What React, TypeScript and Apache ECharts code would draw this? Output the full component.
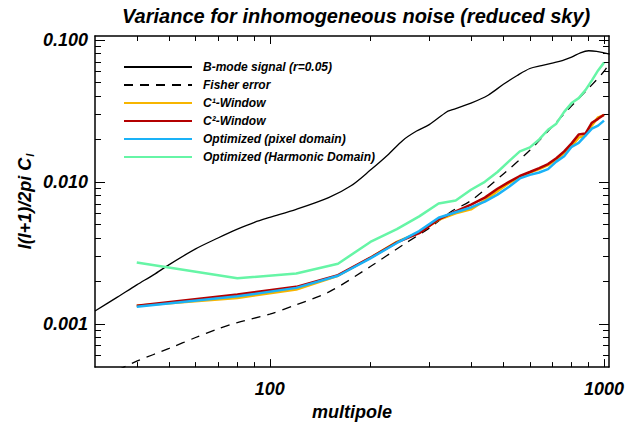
import React, { useEffect, useRef } from "react";
import * as echarts from "echarts";

// ---- data ----
const signalL = [30, 35, 40, 45, 50, 60, 70, 80, 90, 100, 120, 150, 175, 200, 225, 250, 275, 300, 338, 350, 400, 450, 500, 550, 600, 650, 700, 750, 800, 850, 900, 950, 1000, 1040];
const signalV = [0.00123, 0.00154, 0.00188, 0.00222, 0.00261, 0.00337, 0.00402, 0.00464, 0.00519, 0.00562, 0.0064, 0.00774, 0.00938, 0.0121, 0.0154, 0.0196, 0.0228, 0.0253, 0.0311, 0.0321, 0.0359, 0.0408, 0.0487, 0.0562, 0.0629, 0.0659, 0.0687, 0.0715, 0.0756, 0.0812, 0.0839, 0.0832, 0.0812, 0.0793];

const fisherL = [35, 40, 50, 60, 70, 80, 100, 120, 150, 200, 250, 300, 350, 400, 500, 600, 700, 800, 900, 1000, 1040];
const fisherV = [0.00047, 0.000545, 0.00067, 0.0008, 0.00092, 0.00102, 0.00117, 0.00136, 0.00167, 0.00253, 0.00359, 0.00472, 0.0062, 0.00738, 0.01136, 0.0167, 0.0245, 0.0343, 0.0457, 0.06, 0.069];

const binL = [40, 80, 120, 160, 200, 240, 280, 320, 360, 400, 440, 480, 520, 560, 600, 640, 680, 720, 760, 800, 840, 880, 920, 960, 1000];
const c1Window = [0.00134, 0.00152, 0.00174, 0.00218, 0.00292, 0.00378, 0.0044, 0.0054, 0.006, 0.0064, 0.0074, 0.0086, 0.0098, 0.0108, 0.0116, 0.0123, 0.0131, 0.0143, 0.016, 0.0178, 0.0205, 0.0212, 0.025, 0.0285, 0.0295];
const c2Window = [0.00134, 0.00161, 0.00182, 0.0022, 0.00292, 0.00375, 0.00435, 0.00545, 0.0062, 0.00692, 0.00774, 0.00894, 0.01, 0.011, 0.01173, 0.0125, 0.01334, 0.01468, 0.0164, 0.01866, 0.02154, 0.0219, 0.0261, 0.0278, 0.0297];
const optPixel = [0.00132, 0.00156, 0.00179, 0.00218, 0.00289, 0.00371, 0.0045, 0.00558, 0.0061, 0.0066, 0.00726, 0.00813, 0.00923, 0.01057, 0.0112, 0.01164, 0.0123, 0.01388, 0.01517, 0.01765, 0.0188, 0.0212, 0.0237, 0.0249, 0.027];
const optHarmonic = [0.0027, 0.00209, 0.00226, 0.00265, 0.00377, 0.00464, 0.00571, 0.00703, 0.00738, 0.0088, 0.01, 0.01173, 0.014, 0.0164, 0.0175, 0.0199, 0.0233, 0.0257, 0.0311, 0.0359, 0.0389, 0.0443, 0.0519, 0.061, 0.0692];

const seriesNames = [
  "B-mode signal (r=0.05)",
  "Fisher error",
  "C\u00b9-Window",
  "C\u00b2-Window",
  "Optimized (pixel domain)",
  "Optimized (Harmonic Domain)",
];

const xMajorTicks = [100, 1000];
const xMinorTicks = [40, 50, 60, 70, 80, 90, 200, 300, 400, 500, 600, 700, 800, 900];
const yMajorTicks = [0.001, 0.01, 0.1];
const yMinorTicks = [0.0006, 0.0007, 0.0008, 0.0009, 0.002, 0.003, 0.004, 0.005, 0.006, 0.007, 0.008, 0.009, 0.02, 0.03, 0.04, 0.05, 0.06, 0.07, 0.08, 0.09];

const X_MIN = 30;
const X_MAX = 1035;
const Y_MIN = 0.000495;
const Y_MAX = 0.1066;

const FONT = "'Liberation Sans', Arial, sans-serif";

const zip = (xs: number[], ys: number[]) => xs.map((x, i) => [x, ys[i]]);

export default function App() {
  const ref = useRef<HTMLDivElement>(null);
  useEffect(() => {
    if (!ref.current) return;
    const chart = echarts.init(ref.current, undefined, { renderer: "svg" });

    const labelStyle = {
      fontFamily: FONT,
      fontSize: 18,
      fontWeight: "bold" as const,
      fontStyle: "italic" as const,
      color: "#000",
    };

    const mkX = (position: "top" | "bottom", major: boolean, main: boolean) => ({
      type: "log" as const,
      logBase: 10,
      min: X_MIN,
      max: X_MAX,
      position,
      axisLine: { show: main ? true : false, onZero: false, lineStyle: { color: "#000", width: 1.5 } },
      axisTick: {
        show: true,
        inside: true,
        length: major ? 8 : 5,
        customValues: major ? xMajorTicks : xMinorTicks,
        lineStyle: { color: "#000", width: 1 },
      },
      axisLabel: position === "bottom" && major
        ? {
            show: true,
            customValues: xMajorTicks,
            margin: 13,
            ...labelStyle,
            formatter: (v: number) => String(Math.round(v)),
          }
        : { show: false },
      splitLine: { show: false },
      minorTick: { show: false },
      ...(position === "bottom" && major
        ? {
            name: "multipole",
            nameLocation: "middle" as const,
            nameGap: 31,
            nameTextStyle: { ...labelStyle },
          }
        : {}),
    });

    const mkY = (position: "left" | "right", major: boolean, main: boolean) => ({
      type: "log" as const,
      logBase: 10,
      min: Y_MIN,
      max: Y_MAX,
      position,
      axisLine: { show: main ? true : false, onZero: false, lineStyle: { color: "#000", width: 1.5 } },
      axisTick: {
        show: true,
        inside: true,
        length: major ? 10 : 6,
        customValues: major ? yMajorTicks : yMinorTicks,
        lineStyle: { color: "#000", width: 1 },
      },
      axisLabel: position === "left" && major
        ? {
            show: true,
            customValues: yMajorTicks,
            margin: 7,
            ...labelStyle,
            formatter: (v: number) => v.toFixed(3),
          }
        : { show: false },
      splitLine: { show: false },
      minorTick: { show: false },
      ...(position === "left" && major
        ? {
            name: "l(l+1)/2pi C{s|l}",
            nameLocation: "middle" as const,
            nameGap: 60,
            nameRotate: 90,
            nameMoveOverlap: false,
            nameTextStyle: {
              ...labelStyle,
              lineHeight: 20,
              rich: {
                s: {
                  fontFamily: FONT,
                  fontSize: 11,
                  fontWeight: "bold",
                  fontStyle: "italic",
                  color: "#000",
                  lineHeight: 20,
                  verticalAlign: "bottom",
                  padding: [6, 0, 0, 1],
                },
              },
            },
          }
        : {}),
    });

    const lineSeries = (
      name: string,
      data: number[][],
      color: string,
      width: number,
      type: any = "solid",
      smooth: number | boolean = false
    ) => ({
      name,
      type: "line" as const,
      data,
      xAxisIndex: 0,
      yAxisIndex: 0,
      showSymbol: false,
      symbol: "none",
      smooth,
      clip: true,
      lineStyle: { color, width, type },
      itemStyle: { color },
      emphasis: { disabled: true },
    });

    chart.setOption({
      animation: false,
      backgroundColor: "#fff",
      title: {
        text: "Variance for inhomogeneous noise (reduced sky)",
        left: 122,
        top: 6,
        padding: 0,
        textStyle: { ...labelStyle, fontSize: 20 },
      },
      legend: {
        orient: "vertical",
        left: 123,
        top: 60,
        padding: 0,
        itemWidth: 68,
        itemHeight: 14,
        itemGap: 4,
        itemStyle: { color: "rgba(0,0,0,0)", borderWidth: 0, opacity: 0 },
        textStyle: {
          fontFamily: FONT,
          fontSize: 12,
          lineHeight: 14,
          fontWeight: "bold",
          fontStyle: "italic",
          color: "#000",
          padding: [0, 0, 0, 6],
        },
        data: seriesNames,
      },
      grid: { left: 95, right: 19, top: 36, bottom: 54 },
      xAxis: [mkX("bottom", true, true), mkX("bottom", false, false), mkX("top", true, true), mkX("top", false, false)],
      yAxis: [mkY("left", true, true), mkY("left", false, false), mkY("right", true, true), mkY("right", false, false)],
      series: [
        lineSeries(seriesNames[0], zip(signalL, signalV), "#000000", 1.3, "solid", 0.3),
        lineSeries(seriesNames[1], zip(fisherL, fisherV), "#000000", 1.3, [9, 7], 0.3),
        lineSeries(seriesNames[2], zip(binL, c1Window), "#f7b500", 2.5),
        lineSeries(seriesNames[3], zip(binL, c2Window), "#b40000", 2.5),
        lineSeries(seriesNames[4], zip(binL, optPixel), "#1ab2f7", 2.5),
        lineSeries(seriesNames[5], zip(binL, optHarmonic), "#66f5a6", 2.5),
      ],
    });

    return () => chart.dispose();
  }, []);

  return (
    <div
      ref={ref}
      style={{ position: "absolute", left: 0, top: 0, width: 628, height: 426, background: "#fff" }}
    />
  );
}
